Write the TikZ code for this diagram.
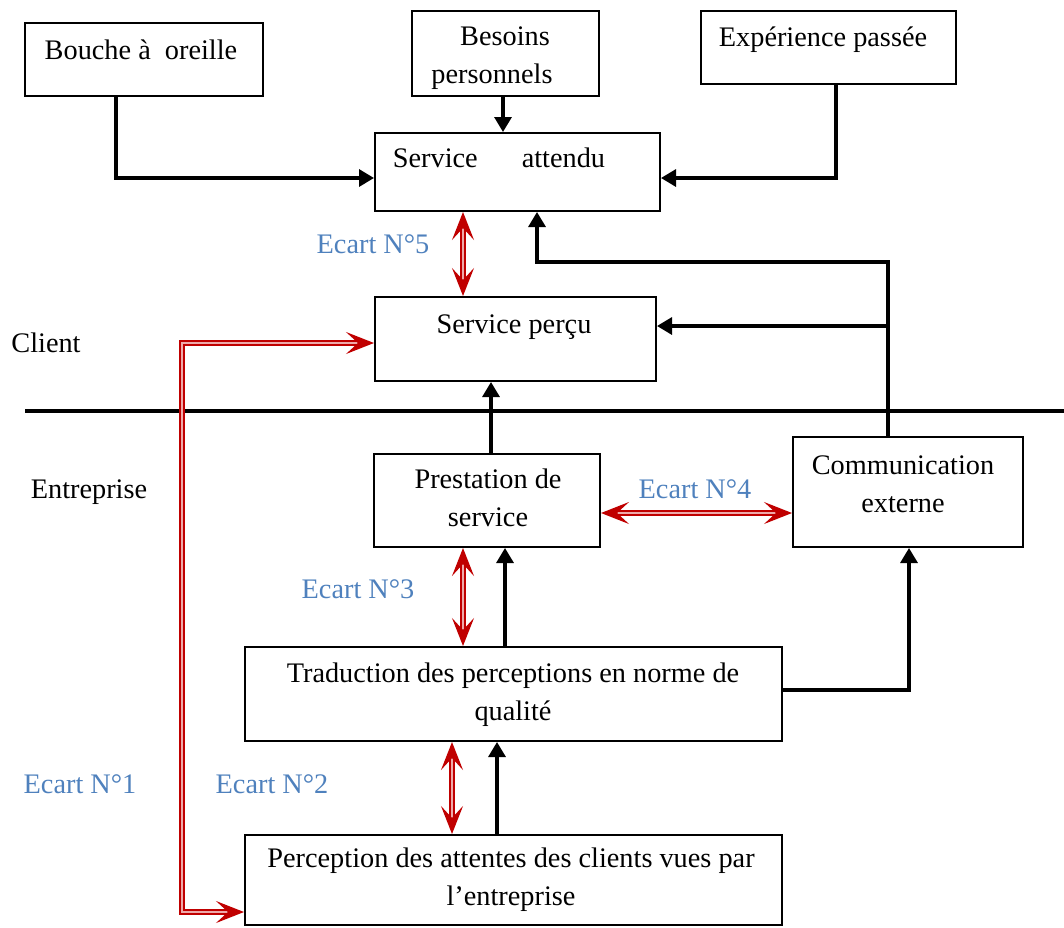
\documentclass[tikz,border=0pt]{standalone}
\usepackage{fontspec}
\setmainfont{Liberation Serif}
\usetikzlibrary{arrows.meta,fit}
\definecolor{ecred}{RGB}{192,0,0}
\definecolor{ecpink}{RGB}{238,170,170}
\definecolor{ecblue}{RGB}{79,129,189}
\newcommand{\twolines}[2]{\begin{tabular}[t]{@{}c@{}}#1\\#2\end{tabular}}
\begin{document}
\begin{tikzpicture}[x=0.5pt,y=-0.5pt,
  box/.style={draw, line width=1pt, inner sep=0pt, rectangle},
  txt/.style={font=\fontsize{14.15}{19}\selectfont, inner sep=0pt, anchor=base},
  lbl/.style={txt, text=ecblue},
  conn/.style={line width=1.6pt, -{Triangle[length=7.5pt,width=8.5pt]}},
  gap/.style={draw=ecred, line width=0.8pt, double=ecpink, double distance=1.4pt,
    {Stealth[length=14pt,width=11pt,inset=6pt]}-{Stealth[length=14pt,width=11pt,inset=6pt]}},
  sep/.style={line width=1.6pt}]
\useasboundingbox (0,0) rectangle (1064,927);
% boxes
\node[box, fit={(25,23) (263,96)}] (bo) {};
\node[box, fit={(412,11) (599,96)}] (bp) {};
\node[box, fit={(701,11) (956,84)}] (ep) {};
\node[box, fit={(375,133) (660,211)}] (sa) {};
\node[box, fit={(375,297) (656,381)}] (sp) {};
\node[box, fit={(374,454) (600,547)}] (ps) {};
\node[box, fit={(793,437) (1023,547)}] (ce) {};
\node[box, fit={(245,647) (782,741)}] (tr) {};
\node[box, fit={(245,835) (782,925)}] (pe) {};
% texts
\node[txt] (tbo) at (141,59) {Bouche à~ oreille};
\node[txt] (tbp) at (492,45) {\twolines{\hspace*{13pt}Besoins}{personnels}};
\node[txt] (tep) at (823,46) {Expérience passée};
\node[txt] (tsa) at (499,167) {Service\hspace{22pt}attendu};
\node[txt] (tsp) at (514,333) {Service perçu};
\node[txt] (tcl) at (46,352) {Client};
\node[txt] (ten) at (89,498) {Entreprise};
\node[txt] (tps) at (488,488) {\twolines{Prestation de}{service}};
\node[txt] (tce) at (903,474) {\twolines{Communication}{externe}};
\node[txt] (ttr) at (513,682) {\twolines{Traduction des perceptions en norme de}{qualité}};
\node[txt] (tpe) at (511,867) {\twolines{Perception des attentes des clients vues par}{l’entreprise}};
% gap labels
\node[lbl] (e5) at (373,253) {Ecart N°5};
\node[lbl] (e4) at (695,498) {Ecart N°4};
\node[lbl] (e3) at (358,598) {Ecart N°3};
\node[lbl] (e2) at (272,793) {Ecart N°2};
\node[lbl] (e1) at (80,793) {Ecart N°1};
% separator
\coordinate (sepl) at (25,411);
\coordinate (sepr) at (1064,411);
\draw[sep] (sepl) -- (sepr);
% junctions
\coordinate (j1) at (888,262);
\coordinate (j2) at (888,326);
\coordinate (c1) at (182,343);
% black connectors
\draw[conn] (bo.south -| 116,0) |- (sa.west |- 0,178);
\draw[conn] (bp.south -| 503,0) -- (sa.north -| 503,0);
\draw[conn] (ep.south -| 836,0) |- (sa.east |- 0,178);
\draw[conn] (ce.north -| 888,0) -- (j1) -| (sa.south -| 537,0);
\draw[conn] (j2) -- (sp.east |- 0,326);
\draw[conn] (ps.north -| 491,0) -- (sp.south -| 491,0);
\draw[conn] (tr.north -| 505,0) -- (ps.south -| 505,0);
\draw[conn] (tr.east |- 0,690) -| (ce.south -| 909,0);
\draw[conn] (pe.north -| 497,0) -- (tr.south -| 497,0);
% gaps
\draw[gap] (sa.south -| 463,0) -- (sp.north -| 463,0);
\draw[gap] (ps.east |- 0,513) -- (ce.west |- 0,513);
\draw[gap] (ps.south -| 463,0) -- (tr.north -| 463,0);
\draw[gap] (tr.south -| 452,0) -- (pe.north -| 452,0);
\draw[gap] (pe.west |- 0,912) -| (c1) -- (sp.west |- c1);
\end{tikzpicture}
\end{document}
